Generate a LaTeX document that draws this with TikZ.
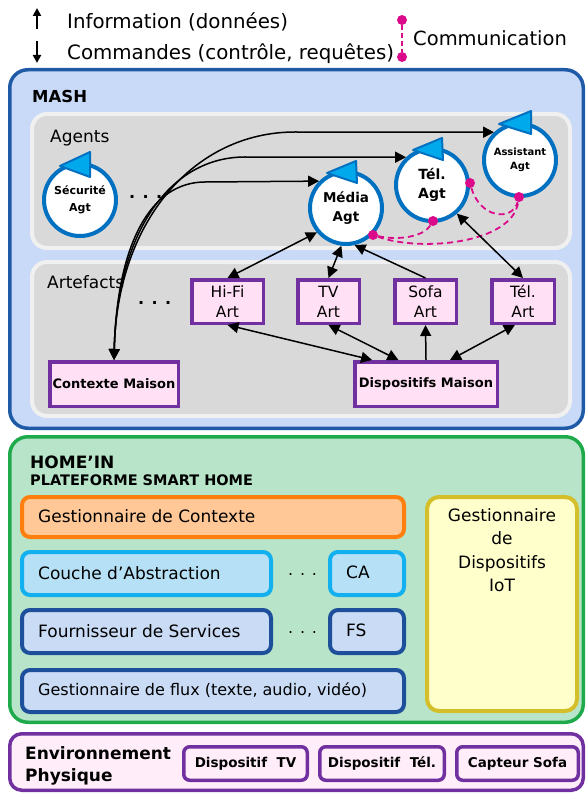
\documentclass[tikz,border=0pt]{standalone}
\usepackage{fontspec}
\setmainfont{DejaVu Sans}
\usetikzlibrary{arrows.meta}
\definecolor{mashB}{HTML}{1F5AA6}
\definecolor{mashF}{HTML}{C9DAF8}
\definecolor{panelF}{HTML}{D9D9D9}
\definecolor{panelB}{HTML}{F0F0F0}
\definecolor{agtB}{HTML}{0070C0}
\definecolor{flagF}{HTML}{00A8EC}
\definecolor{artB}{HTML}{7030A0}
\definecolor{artF}{HTML}{FFE0F4}
\definecolor{pinkC}{HTML}{DB0A8B}
\definecolor{homeB}{HTML}{1EAA4B}
\definecolor{homeF}{HTML}{B8E5C9}
\definecolor{oraB}{HTML}{FF7F0E}
\definecolor{oraF}{HTML}{FFC896}
\definecolor{lbB}{HTML}{12B0EE}
\definecolor{lbF}{HTML}{B5E0F5}
\definecolor{dbB}{HTML}{1D4F9A}
\definecolor{dbF}{HTML}{C9DBF5}
\definecolor{yeB}{HTML}{D4BF2B}
\definecolor{yeF}{HTML}{FFFFCC}
\definecolor{envF}{HTML}{FFEEF9}
\newcommand\myfs[2]{\fontsize{#1}{#2}\selectfont}
\begin{document}
\begin{tikzpicture}[x=1pt,y=-1pt,
  txt/.style={inner sep=0pt, anchor=west},
  bigbox/.style={draw, rounded corners=18pt, line width=3.5pt, inner sep=0pt},
  panel/.style={draw=panelB, fill=panelF, rounded corners=15pt, line width=4pt, inner sep=0pt},
  agent/.style={circle, draw=agtB, fill=white, line width=4pt, minimum size=72pt, inner sep=0pt, align=center, font=\bfseries},
  flag/.style={fill=flagF, draw=agtB, line width=2pt, line join=round},
  art/.style={draw=artB, fill=artF, line width=3.5pt, inner sep=0pt, align=center},
  hbox/.style={draw, rounded corners=8pt, line width=4pt, inner sep=0pt},
  ebox/.style={draw=artB, fill=envF, rounded corners=6pt, line width=3.5pt, inner sep=0pt, font=\bfseries\myfs{13.5}{16}},
  pdot/.style={circle, fill=pinkC, inner sep=0pt, minimum size=10pt},
  pdash/.style={pinkC, line width=1.8pt, dash pattern=on 6pt off 4pt},
  conn/.style={line width=1.5pt, black, arrows={-{Triangle[length=11pt,width=11pt]}}},
  conn2/.style={line width=1.5pt, black, arrows={{Triangle[length=11pt,width=11pt]}-{Triangle[length=11pt,width=11pt]}}},
  legarrow/.style={line width=2pt, -{Triangle[length=8pt,width=8pt]}}
]
\useasboundingbox (0,0) rectangle (587,794);

% ---------- legend ----------
\coordinate (upA) at (37,29);
\coordinate (upB) at (37,8);
\coordinate (dnA) at (37,41);
\coordinate (dnB) at (37,63);
\draw[legarrow] (upA) -- (upB);
\draw[legarrow] (dnA) -- (dnB);
\node[txt, font=\myfs{19.8}{22}] (info) at (67,21.5) {Information (données)};
\node[txt, font=\myfs{19.8}{22}] (cmd) at (67,53.5) {Commandes (contrôle, requêtes)};
\node[pdot] (lp1) at (402,20) {};
\node[pdot] (lp2) at (402,57) {};
\draw[pinkC, line width=1.8pt, dash pattern=on 5pt off 3pt] (lp1) -- (lp2);
\node[txt, font=\myfs{19.5}{22}] (comm) at (413,38) {Communication};

% ---------- MASH ----------
\node[bigbox, draw=mashB, fill=mashF, minimum width=573.5pt, minimum height=358.5pt] (mash) at (296.5,249) {};
\node[txt, font=\bfseries\myfs{16.5}{18}] (mashT) at (32,96) {MASH};
\node[panel, minimum width=538pt, minimum height=134pt] (agp) at (301,181) {};
\node[panel, minimum width=538pt, minimum height=154pt] (arp) at (301,339) {};
\node[txt, font=\myfs{17}{18}] (agT) at (50,138) {Agents};
\node[txt, font=\myfs{17}{18}] (arT) at (47,282) {Artefacts};

% agents
\node[agent, font=\bfseries\myfs{11}{17}] (s) at (80,200) {Sécurité\\Agt};
\node[agent, font=\bfseries\myfs{13.5}{19}] (m) at (346,208) {Média\\Agt};
\node[agent, font=\bfseries\myfs{14}{19}] (t) at (432,185) {Tél.\\Agt};
\node[agent, font=\bfseries\myfs{10}{14.5}] (a) at (520,160) {Assistant\\Agt};
\filldraw[flag] (s.center) ++(-20,-34) -- ++(30,-14) -- ++(0,25) -- cycle;
\filldraw[flag] (m.center) ++(-19,-35) -- ++(29,-12) -- ++(1,22) -- cycle;
\filldraw[flag] (t.center) ++(-19,-35) -- ++(29,-12) -- ++(1,22) -- cycle;
\filldraw[flag] (a.center) ++(-21,-36) -- ++(32,-13) -- ++(0,23) -- cycle;
\node[txt, font=\bfseries\myfs{16}{18}] (agdots) at (129,197) {. . .};

% artefacts
\node[art, font=\myfs{15.5}{20}, minimum width=71.5pt, minimum height=43.5pt] (hifi) at (227.5,301.5) {Hi-Fi\\Art};
\node[art, font=\myfs{15.5}{20}, minimum width=61.5pt, minimum height=43.5pt] (tv) at (328.5,301.5) {TV\\Art};
\node[art, font=\myfs{15.5}{20}, minimum width=61.5pt, minimum height=43.5pt] (sofa) at (425.5,301.5) {Sofa\\Art};
\node[art, font=\myfs{15.5}{20}, minimum width=62.5pt, minimum height=43.5pt] (telart) at (523,301.5) {Tél.\\Art};
\node[art, font=\bfseries\myfs{13}{16}, minimum width=128.5pt, minimum height=44.5pt] (ctx) at (114,384) {Contexte Maison};
\node[art, font=\bfseries\myfs{13}{16}, minimum width=142.5pt, minimum height=44.5pt] (disp) at (426,384) {Dispositifs Maison};
\node[txt, font=\bfseries\myfs{16}{18}] (ardots) at (138,303) {. . .};

% communication (pink)
\node[pdot] (dm) at (373,235) {};
\node[pdot] (dtb) at (433,221) {};
\node[pdot] (dtr) at (470,183) {};
\node[pdot] (da) at (519,197) {};
\draw[pdash] (dm) .. controls (400,241) and (424,236) .. (dtb);
\draw[pdash] (dm) .. controls (420,252) and (512,244) .. (da);
\draw[pdash] (dtr) .. controls (480,218) and (512,222) .. (da);

% context curves
\draw[conn2] (ctx.north) .. controls (117,245) and (150,182) .. (205,182) -- (m.135);
\draw[conn2] (ctx.north) .. controls (117,232) and (170,157) .. (245,157) -- (t.133);
\draw[conn2] (ctx.north) .. controls (117,220) and (195,132) .. (295,132) -- (a.133);

% artefact connectors
\draw[conn2] (hifi.north) -- (m.220);
\draw[conn2] (tv.north) -- (m.263);
\draw[conn] (sofa.north) -- (m.283);
\draw[conn2] (telart.north) -- (t.311);
\draw[conn2] (hifi.south) -- (disp.156);
\draw[conn2] (tv.south) -- (disp.139);
\draw[conn] (disp.north) -- (sofa.south);
\draw[conn2] (telart.251) -- (disp.45);

% ---------- HOME'IN ----------
\node[bigbox, draw=homeB, fill=homeF, minimum width=573.5pt, minimum height=285.5pt] (home) at (296.5,579.5) {};
\node[txt, font=\bfseries\myfs{17}{20}] (homeT) at (30,462) {HOME’IN};
\node[txt, font=\bfseries\myfs{14.5}{17}] (homeT2) at (30,480) {PLATEFORME SMART HOME};

\node[hbox, draw=oraB, fill=oraF, minimum width=382pt, minimum height=40pt] (gc) at (213,517) {};
\node[txt, font=\myfs{17}{20}] (gcT) at (38,516) {Gestionnaire de Contexte};

\node[hbox, draw=lbB, fill=lbF, minimum width=249pt, minimum height=43pt] (ca1) at (146.5,573.5) {};
\node[txt, font=\myfs{17}{20}] (ca1T) at (38,573) {Couche d’Abstraction};
\node[hbox, draw=lbB, fill=lbF, minimum width=74pt, minimum height=43pt] (ca2) at (367,573.5) {};
\node[txt, font=\myfs{17}{20}] (ca2T) at (346,572) {CA};
\node[txt, font=\myfs{16}{18}] (cadots) at (288,575) {. . .};

\node[hbox, draw=dbB, fill=dbF, minimum width=249pt, minimum height=43pt] (fs1) at (146.5,631.5) {};
\node[txt, font=\myfs{17}{20}] (fs1T) at (38,631) {Fournisseur de Services};
\node[hbox, draw=dbB, fill=dbF, minimum width=74pt, minimum height=43pt] (fs2) at (367,631.5) {};
\node[txt, font=\myfs{17}{20}] (fs2T) at (346,630) {FS};
\node[txt, font=\myfs{16}{18}] (fsdots) at (288,633) {. . .};

\node[hbox, draw=dbB, fill=dbF, minimum width=382pt, minimum height=42pt] (flux) at (213,691) {};
\node[txt, font=\myfs{16}{19}] (fluxT) at (38,690) {Gestionnaire de flux (texte, audio, vidéo)};

\node[hbox, draw=yeB, fill=yeF, rounded corners=12pt, minimum width=150pt, minimum height=214pt] (iot) at (502,604) {};
\node[inner sep=0pt, anchor=north, align=center, font=\myfs{17}{23.5}] (iotT) at (502,508) {Gestionnaire\\de\\Dispositifs\\IoT};

% ---------- Environnement ----------
\node[draw=artB, fill=envF, rounded corners=12pt, line width=3.5pt, inner sep=0pt, minimum width=573.5pt, minimum height=56.5pt] (env) at (296.5,762) {};
\node[txt, align=left, font=\bfseries\myfs{17}{22}] (envT) at (25,766) {Environnement\\Physique};
\node[ebox, minimum width=123.5pt, minimum height=33.5pt] (dtv) at (245.5,763.5) {Dispositif\ \ TV};
\node[ebox, minimum width=124.5pt, minimum height=33.5pt] (dtel) at (382,763.5) {Dispositif\ \ Tél.};
\node[ebox, minimum width=121.5pt, minimum height=33.5pt] (csofa) at (517.5,763.5) {Capteur Sofa};
\end{tikzpicture}
\end{document}
